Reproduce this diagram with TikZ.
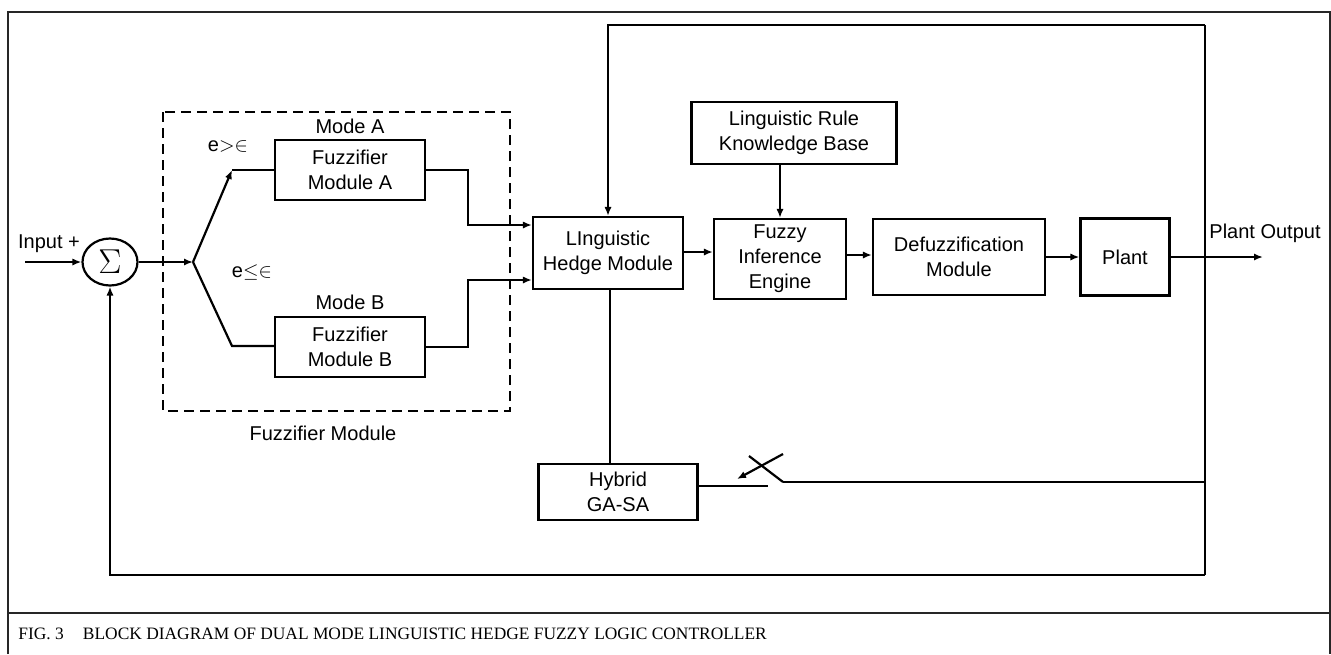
\documentclass[tikz,border=0pt]{standalone}
\usepackage{fontspec}
\setmainfont{Liberation Sans}
\newfontfamily\capfont{Liberation Serif}
\usetikzlibrary{shapes.geometric,arrows.meta}

\begin{document}
\begin{tikzpicture}[
        % pixel grid of the figure
        x=0.5pt, y=-0.5pt,
        font=\fontsize{10}{12.5}\selectfont,
        block/.style={draw, line width=1.1pt, align=center, inner sep=0pt},
        wire/.style={line width=1.1pt},
        arr/.style={wire, -{Latex[length=4.5pt,width=3.6pt]}},
        sumnode/.style={ellipse, draw, line width=1.1pt, minimum width=27.5pt, minimum height=23.5pt, inner sep=0pt},
        lbl/.style={inner sep=0pt, align=center},
        frameline/.style={line width=0.7pt, black!85}
    ]

        % --- parameters ---
        \def\fbX{1205}    % right feedback line
        \def\fbTopY{25}   % upper feedback line
        \def\fbBotY{575}  % lower feedback line

        % --- 1. frame and caption ---
        \useasboundingbox (0,0) rectangle (1331,654);
        \draw[frameline] (8,654) -- (8,12) -- (1330,12) -- (1330,654);
        \draw[frameline] (8,613) -- (1330,613);
        \node[lbl, anchor=west, font=\capfont\fontsize{8.7}{10}\selectfont] (cap) at (18,634)
            {FIG. 3\hspace{1.1em}BLOCK DIAGRAM OF DUAL MODE LINGUISTIC HEDGE FUZZY LOGIC CONTROLLER};

        % --- 2. summing junction and input ---
        \node[sumnode] (sum) at (110,262) {\fontsize{16}{16}\selectfont$\Sigma$};
        \coordinate (inp) at (25,262);
        \node[lbl] (inlbl) at (49,244) {Input +};
        \draw[arr] (inp) -- (sum.west);

        % --- 3. fuzzifier module (two modes) ---
        \draw[line width=1.1pt, dashed, dash pattern=on 5pt off 3pt] (163,112) rectangle (510,411);
        \node[lbl] (fzlbl) at (323,433) {Fuzzifier Module};

        \node[block, minimum width=75pt, minimum height=30pt] (fzA) at (350,170) {Fuzzifier\\Module A};
        \node[block, minimum width=75pt, minimum height=30pt] (fzB) at (350,347) {Fuzzifier\\Module B};
        \node[lbl] (modeA) at (350,126) {Mode A};
        \node[lbl] (modeB) at (350,302) {Mode B};
        \node[lbl] (eA) at (228,146) {e$>\in$};
        \node[lbl] (eB) at (252,272) {e$\leq\in$};

        \coordinate (br) at (193,262);
        \coordinate (upA) at (232,170);
        \coordinate (dnB) at (232,346);
        \draw[arr] (sum.east) -- (br);
        \draw[arr] (br) -- (upA);
        \draw[wire] (upA) -- (fzA.west);
        \draw[wire] (br) -- (dnB) -- (fzB.west |- dnB);

        % --- 4. main chain ---
        \node[block, minimum width=75pt, minimum height=36pt] (hedge) at (608,253) {LInguistic\\Hedge Module};
        \node[block, minimum width=102.5pt, minimum height=31pt] (kb) at (794,133) {Linguistic Rule\\Knowledge Base};
        \node[block, minimum width=66pt, minimum height=40pt] (fie) at (780,259) {Fuzzy\\Inference\\Engine};
        \node[block, minimum width=86pt, minimum height=38pt] (defuz) at (959,257) {Defuzzification\\Module};
        \node[block, minimum width=44.5pt, minimum height=38.5pt] (plant) at (1125,257) {Plant};
        \node[block, minimum width=79.5pt, minimum height=28pt] (hybrid) at (618,492) {Hybrid\\GA-SA};

        \draw[arr] (fzA.east) -- ++(42,0) |- ([yshift=14pt]hedge.west);
        \draw[arr] (fzB.east) -- ++(42,0) |- ([yshift=-13.5pt]hedge.west);
        \draw[arr] (hedge.east |- 0,252) -- (fie.west |- 0,252);
        \draw[arr] (kb.south -| fie.north) -- (fie.north);
        \draw[arr] (fie.east |- 0,255) -- (defuz.west |- 0,255);
        \draw[arr] (defuz.east) -- (plant.west);

        \coordinate (out) at (1263,257);
        \draw[arr] (plant.east) -- (out);
        \node[lbl, anchor=west] (outlbl) at (1209,233) {Plant Output};

        % --- 5. feedback loops ---
        \coordinate (fbTop) at (\fbX,\fbTopY);
        \coordinate (fbBot) at (\fbX,\fbBotY);
        \draw[wire] (fbBot) -- (fbTop);
        \draw[arr] (fbTop) -| (hedge.north);
        \draw[arr] (fbBot) -| (sum.south);

        % --- 6. tuning path with switch ---
        \draw[wire] (hedge.south -| 610,0) -- (hybrid.north -| 610,0);
        \coordinate (swL) at (768,486);
        \coordinate (swR) at (783,482);
        \draw[wire] (hybrid.east |- swL) -- (swL);
        \draw[wire] (swR) -- (fbBot |- swR);
        \draw[wire] (swR) -- (749,456);
        \draw[arr] (783,454) -- (737,479);

    \end{tikzpicture}
\end{document}
